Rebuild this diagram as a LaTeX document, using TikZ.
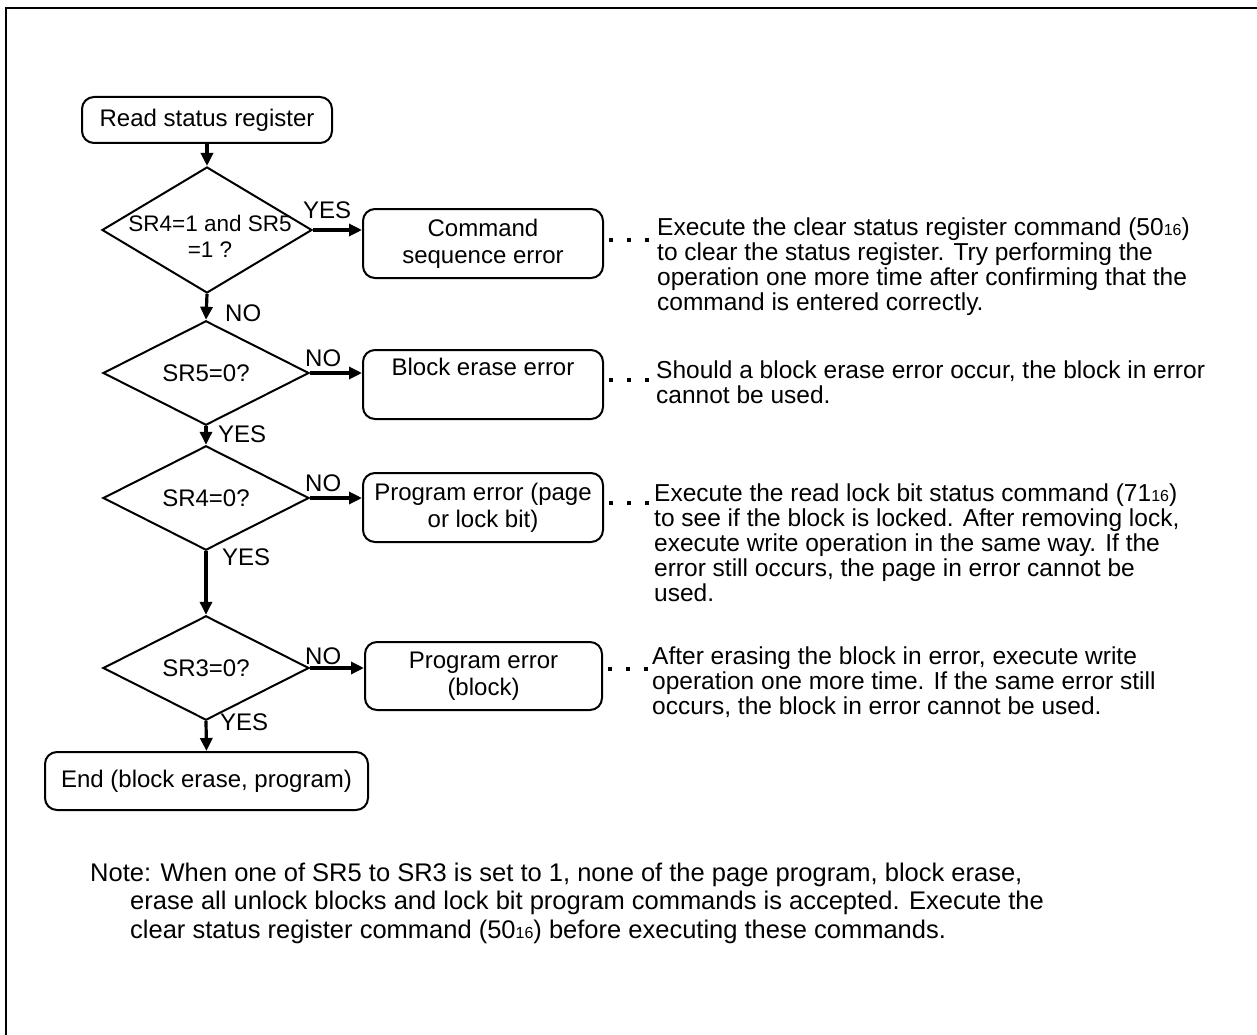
\documentclass[tikz,border=0pt]{standalone}
\usepackage{fontspec}
\setmainfont{Liberation Sans}
\usetikzlibrary{shapes.geometric,arrows.meta}
\newcommand{\hexsub}{{\fontsize{16}{16}\selectfont 16}}
\begin{document}
\begin{tikzpicture}[x=1pt,y=-1pt,
  every node/.style={font=\fontsize{24}{27}\selectfont, inner sep=0pt},
  box/.style={draw, rounded corners=12pt, line width=2pt, align=center},
  dia/.style={draw, diamond, line width=2pt, inner sep=0pt},
  arr/.style={-{Triangle[length=13pt,width=12pt]}, line width=3.2pt},
  lbl/.style={anchor=base west},
  desc/.style={align=left, anchor=north west, font=\fontsize{24.5}{25}\selectfont},
  dotline/.style={line width=4pt, dash pattern=on 4pt off 14pt}
]
\useasboundingbox (0,0) rectangle (1257,1035);
\draw[line width=2.5pt] (6,1035) -- (6,8) -- (1257,8);

% boxes
\node[box, minimum width=250pt, minimum height=46pt] (read) at (207,120) {Read status register};
\node[box, minimum width=240pt, minimum height=69pt] (cmd) at (483,243.5) {Command\\sequence error};
\node[box, minimum width=240pt, minimum height=69pt] (blk) at (483,384.5) {Block erase error\\\strut};
\node[box, minimum width=240pt, minimum height=69pt] (pg) at (483,507.5) {Program error (page\\or lock bit)};
\node[box, minimum width=237pt, minimum height=68pt] (pb) at (483.5,676) {Program error\\(block)};
\node[box, minimum width=323pt, minimum height=58pt] (end) at (206.5,781) {End (block erase, program)};

% decisions
\node[dia, minimum width=210pt, minimum height=126pt] (d1) at (207,230) {};
\node[align=center, font=\fontsize{22.5}{26}\selectfont] (d1t) at (210,236) {SR4=1 and SR5\\=1 ?};
\node[dia, minimum width=206pt, minimum height=77pt] (d2) at (206,373) {SR5=0?};
\node[dia, minimum width=206pt, minimum height=76pt] (d3) at (206,498) {SR4=0?};
\node[dia, minimum width=206pt, minimum height=77pt] (d4) at (206,668) {SR3=0?};

% arrows
\draw[arr] (read.south) -- (d1.north);
\draw[arr] (d1.east) -- (d1.east -| cmd.west);
\draw[arr] (d1.south) -- (d2.north);
\draw[arr] (d2.east) -- (d2.east -| blk.west);
\draw[arr] (d2.south) -- (d3.north);
\draw[arr] (d3.east) -- (d3.east -| pg.west);
\draw[arr] (d3.south) -- (d4.north);
\draw[arr] (d4.east) -- (d4.east -| pb.west);
\draw[arr] (d4.south) -- (end.north);

% labels
\node[lbl] (y1) at (303,218) {YES};
\node[lbl] (n1) at (225,321) {NO};
\node[lbl] (n2) at (305,366) {NO};
\node[lbl] (y2) at (218,442) {YES};
\node[lbl] (n3) at (305,491) {NO};
\node[lbl] (y3) at (222,565) {YES};
\node[lbl] (n4) at (305,664) {NO};
\node[lbl] (y4) at (220,730) {YES};

% descriptions
\node[desc] (t1) at (657,217.5) {Execute the clear status register command (50\hexsub)\\to clear the status register. Try performing the\\operation one more time after confirming that the\\command is entered correctly.};
\node[desc] (t2) at (656,360.5) {Should a block erase error occur, the block in error\\cannot be used.};
\node[desc] (t3) at (654,483.5) {Execute the read lock bit status command (71\hexsub)\\to see if the block is locked. After removing lock,\\execute write operation in the same way. If the\\error still occurs, the page in error cannot be\\used.};
\node[desc] (t4) at (652,646.5) {After erasing the block in error, execute write\\operation one more time. If the same error still\\occurs, the block in error cannot be used.};

% dotted leaders
\draw[dotline] ([xshift=5pt,yshift=4pt]cmd.east) -- ++(41,0);
\draw[dotline] ([xshift=5pt,yshift=5pt]blk.east) -- ++(41,0);
\draw[dotline] ([xshift=5pt,yshift=5pt]pg.east) -- ++(41,0);
\draw[dotline] ([xshift=5pt,yshift=7pt]pb.east) -- ++(41,0);

% note
\node[desc, font=\fontsize{25.5}{28.5}\selectfont] (note) at (90,862.5) {Note: When one of SR5 to SR3 is set to 1, none of the page program, block erase,\\\hspace*{40pt}erase all unlock blocks and lock bit program commands is accepted. Execute the\\\hspace*{40pt}clear status register command (50\hexsub) before executing these commands.};
\end{tikzpicture}
\end{document}
